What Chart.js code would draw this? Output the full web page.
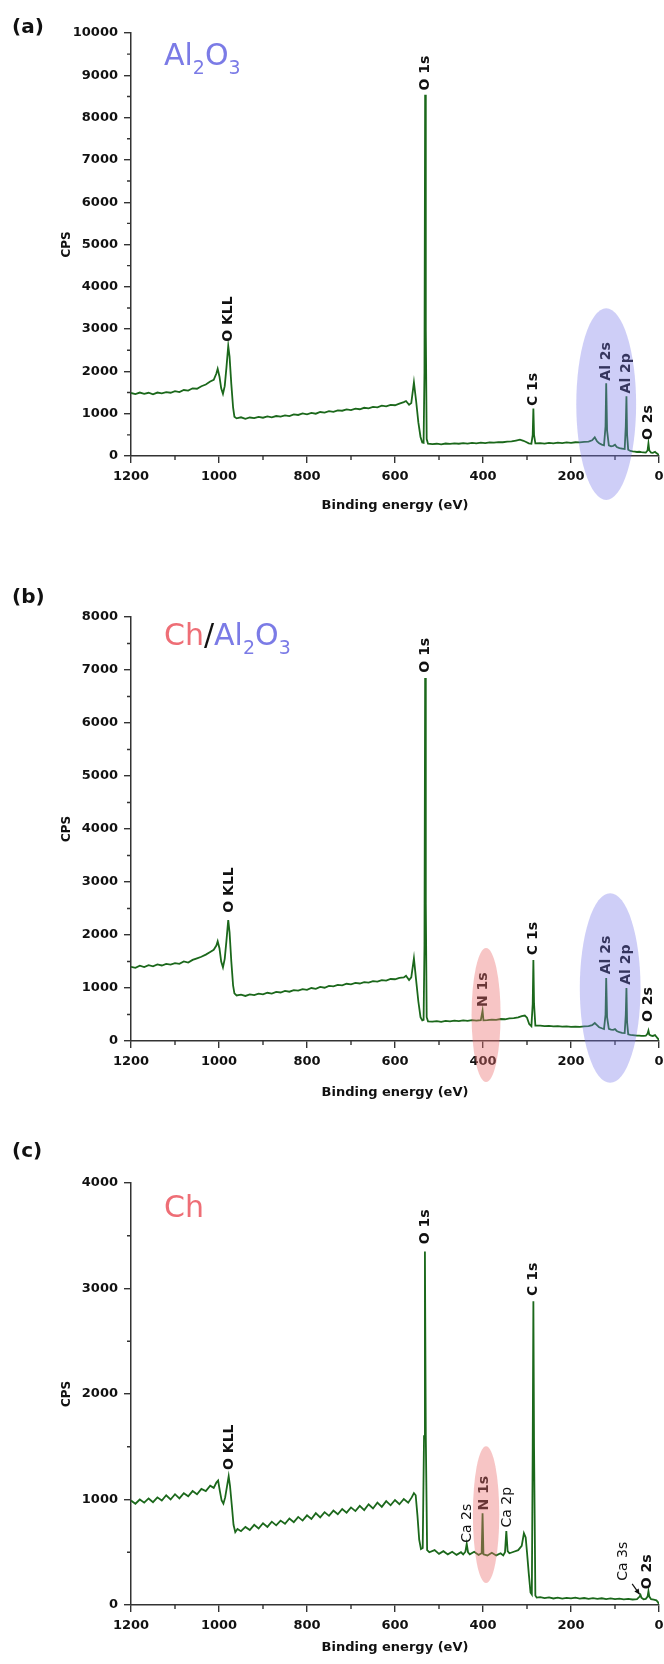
<!DOCTYPE html>
<html>
<head>
<meta charset="utf-8">
<script src="https://cdn.jsdelivr.net/npm/chart.js@4.4.1/dist/chart.umd.min.js"></script>
<style>
  body { margin: 0; background: #fff; }
  #page { position: relative; width: 664px; height: 1664px; overflow: hidden; background: #fff; }
  canvas { position: absolute; left: 0; }
  .tag { position: absolute; font: bold 20px/20px "DejaVu Sans", sans-serif; color: #111; }
  .formula { position: absolute; left: 164px; font: 30px/30px "DejaVu Sans", sans-serif; white-space: nowrap; }
  .formula sub { font-size: 19px; vertical-align: -9px; line-height: 0; }
  .al { color: #7b7be6; }
  .ch { color: #ee6e76; }
  .slash { color: #111; }
</style>
</head>
<body>
<div id="page">
  <canvas id="chartA" width="664" height="556" style="top:0"></canvas>
  <canvas id="chartB" width="664" height="556" style="top:556px"></canvas>
  <canvas id="chartC" width="664" height="552" style="top:1112px"></canvas>
  <div class="tag" style="left:12px;top:16px">(a)</div>
  <div class="tag" style="left:12px;top:586px">(b)</div>
  <div class="tag" style="left:12px;top:1140px">(c)</div>
  <div class="formula" style="top:40px"><span class="al">Al<sub>2</sub>O<sub>3</sub></span></div>
  <div class="formula" style="top:620px"><span class="ch">Ch</span><span class="slash">/</span><span class="al">Al<sub>2</sub>O<sub>3</sub></span></div>
  <div class="formula" style="top:1192px"><span class="ch">Ch</span></div>
</div>
<script>
// survey spectra, [binding energy (eV), CPS]
const spectrumA = [
  [1200,1490],[1190,1465],[1180,1500],[1170,1470],[1160,1495],[1150,1460],[1140,1500],[1130,1480],[1120,1510],[1110,1495],
  [1100,1535],[1090,1510],[1080,1560],[1070,1545],[1060,1600],[1050,1590],[1040,1650],[1030,1690],[1020,1760],[1012,1800],
  [1006,1950],[1003,2060],[999,1880],[995,1600],[991,1470],[987,1650],[983,2100],[979,2600],[976,2350],[972,1700],
  [968,1150],[965,930],[960,890],[950,915],[940,880],[930,910],[920,895],[910,925],[900,905],[890,935],
  [880,915],[870,945],[860,930],[850,960],[840,945],[830,985],[820,970],[810,1005],[800,985],[790,1020],
  [780,1000],[770,1040],[760,1025],[750,1060],[740,1045],[730,1080],[720,1070],[710,1100],[700,1085],[690,1120],
  [680,1105],[670,1140],[660,1125],[650,1160],[640,1150],[630,1190],[620,1175],[610,1210],[600,1200],[590,1240],
  [580,1275],[575,1300],[568,1210],[563,1250],[557,1740],[552,1300],[547,800],[542,450],[538,320],[535,310],
  [533,2000],[531.5,8540],[530,3000],[528,400],[525,290],[515,280],[505,290],[495,275],[485,295],[475,285],
  [465,300],[455,290],[445,305],[435,295],[425,310],[415,300],[405,315],[395,305],[385,320],[375,315],
  [365,330],[355,325],[345,340],[335,345],[325,365],[316,385],[308,360],[302,330],[296,300],[290,290],
  [287,500],[285.5,1120],[284,500],[281,300],[270,305],[260,295],[250,310],[240,300],[230,315],[220,305],
  [210,320],[200,310],[190,325],[180,320],[170,335],[160,340],[152,370],[146,440],[141,350],[136,300],
  [130,270],[125,255],[121.5,700],[120,1720],[118,600],[114,250],[109,230],[104,240],[100,265],[96,210],
  [90,185],[84,175],[78,165],[75.5,700],[74,1415],[72.5,500],[70,150],[65,120],[60,110],[55,105],
  [50,95],[45,100],[40,90],[35,85],[30,80],[26,130],[24,300],[22,130],[18,80],[14,75],
  [9,100],[6,70],[3,50],[0,20]
];
const spectrumB = [
  [1200,1400],[1190,1380],[1180,1420],[1170,1395],[1160,1430],[1150,1410],[1140,1445],[1130,1425],[1120,1455],[1110,1440],
  [1100,1470],[1090,1455],[1080,1500],[1070,1480],[1060,1530],[1050,1560],[1040,1590],[1030,1630],[1020,1680],[1012,1720],
  [1006,1800],[1003,1880],[999,1750],[995,1500],[991,1390],[987,1550],[983,1900],[979,2280],[976,2050],[972,1500],
  [968,1050],[965,900],[960,860],[950,875],[940,850],[930,880],[920,865],[910,895],[900,880],[890,910],
  [880,895],[870,925],[860,915],[850,945],[840,930],[830,960],[820,950],[810,980],[800,965],[790,1000],
  [780,985],[770,1020],[760,1005],[750,1040],[740,1030],[730,1060],[720,1050],[710,1080],[700,1070],[690,1095],
  [680,1085],[670,1110],[660,1100],[650,1130],[640,1120],[630,1150],[620,1140],[610,1170],[600,1165],[590,1190],
  [580,1200],[575,1230],[568,1150],[563,1200],[557,1560],[552,1150],[547,750],[542,450],[538,390],[535,400],
  [533,1800],[531.5,6850],[530,2600],[528,450],[525,370],[515,365],[505,375],[495,360],[485,380],[475,370],
  [465,385],[455,375],[445,390],[435,380],[425,395],[415,385],[405,395],[401,570],[399,390],[390,395],
  [380,405],[370,400],[360,415],[350,410],[340,425],[330,430],[320,445],[312,470],[305,480],[300,440],
  [295,320],[290,280],[287,700],[285.5,1530],[284,700],[281,290],[270,290],[260,280],[250,285],[240,275],
  [230,280],[220,270],[210,275],[200,265],[190,270],[180,265],[170,275],[160,280],[152,300],[146,340],
  [141,300],[136,260],[130,240],[125,225],[121.5,500],[120,1190],[118,450],[114,230],[109,215],[104,210],
  [100,225],[96,190],[90,165],[84,155],[78,150],[75.5,500],[74,1000],[72.5,350],[70,125],[65,115],
  [60,110],[55,105],[50,100],[45,100],[40,95],[35,95],[30,100],[26,140],[24,195],[22,120],
  [18,100],[14,95],[9,110],[6,80],[3,50],[0,20]
];
const spectrumC = [
  [1200,990],[1190,960],[1180,1000],[1170,970],[1160,1010],[1150,975],[1140,1020],[1130,990],[1120,1040],[1110,1000],
  [1100,1050],[1090,1010],[1080,1060],[1070,1030],[1060,1080],[1050,1050],[1040,1100],[1030,1080],[1020,1130],[1012,1110],
  [1006,1160],[1002,1180],[998,1080],[994,990],[990,960],[986,1020],[982,1120],[978,1220],[975,1130],[971,950],
  [967,760],[963,690],[958,720],[950,700],[940,740],[930,710],[920,760],[910,725],[900,775],[890,740],
  [880,790],[870,755],[860,800],[850,770],[840,820],[830,785],[820,835],[810,800],[800,850],[790,815],
  [780,870],[770,830],[760,880],[750,845],[740,895],[730,860],[720,910],[710,875],[700,925],[690,890],
  [680,940],[670,900],[660,955],[650,915],[640,970],[630,930],[620,985],[610,945],[600,995],[590,955],
  [580,1005],[570,970],[562,1020],[557,1060],[553,1040],[549,850],[545,620],[541,530],[537,540],[534,1600],
  [532,3350],[530,1600],[527,520],[522,500],[510,520],[500,485],[490,510],[480,480],[470,505],[460,475],
  [450,500],[445,480],[440,505],[437,580],[434,500],[430,480],[420,505],[410,475],[403,490],[401,870],
  [399,480],[390,470],[380,495],[370,470],[360,490],[354,470],[350,500],[347,700],[344,510],[340,490],
  [330,505],[320,520],[312,560],[307,680],[303,640],[300,500],[296,300],[292,120],[289,100],[287,1500],
  [285.5,2880],[284,1500],[281,90],[278,70],[270,75],[260,65],[250,72],[240,62],[230,70],[220,60],
  [210,68],[200,62],[190,70],[180,60],[170,66],[160,58],[150,65],[140,58],[130,64],[120,56],
  [110,62],[100,55],[90,60],[80,54],[70,58],[60,52],[50,56],[44,80],[42,95],[40,70],
  [35,55],[30,58],[26,80],[24,130],[22,80],[18,55],[12,50],[6,45],[3,30],[0,10]
];

// peak labels: [text, eV, CPS at the start of the rotated text, weight]
const peaksA = [["O KLL",978,2700,"bold"],["O 1s",531,8640,"bold"],["C 1s",286,1180,"bold"],["Al 2s",120,1780,"bold"],["Al 2p",74,1480,"bold"],["O 2s",25,380,"bold"]];
const peaksB = [["O KLL",977,2420,"bold"],["O 1s",531,6950,"bold"],["N 1s",399,640,"bold"],["C 1s",286,1620,"bold"],["Al 2s",119,1260,"bold"],["Al 2p",74,1060,"bold"],["O 2s",25,360,"bold"]];
const peaksC = [["O KLL",977,1280,"bold"],["O 1s",532,3420,"bold"],["C 1s",286,2930,"bold"],["Ca 2s",435,590,"normal"],["N 1s",398,895,"bold"],["Ca 2p",344,735,"normal"],["Ca 3s",80,230,"normal"],["O 2s",26,150,"bold"]];

// highlighted regions: [centre eV, centre CPS, half width eV, half height CPS, tint]
const regionsA = [[120,1226,68,2264,"blue"]];
const regionsB = [[111,1000,69,1790,"blue"],[393,490,33,1264,"red"]];
const regionsC = [[393,857,30,648,"red"]];

// arrows: [from eV, from CPS, to eV, to CPS]
const arrowsC = [[61,200,44,100]];

const yTicksA = 10000, yTicksB = 8000, yTicksC = 4000;

const FONT = "'DejaVu Sans', sans-serif";
const INK = "#111";
const AXIS = "#333";
const TINT = {blue: "rgba(120,120,232,0.36)", red: "rgba(236,110,110,0.4)"};

const annotate = {
  id: "annotate",
  afterDatasetsDraw(chart, args, opts) {
    const {ctx, scales: {x, y}} = chart;
    ctx.save();
    ctx.fillStyle = INK;
    ctx.textAlign = "left";
    ctx.textBaseline = "middle";
    (opts.peaks || []).forEach(([text, ev, cps, weight]) => {
      ctx.save();
      ctx.font = `${weight} 14px ${FONT}`;
      ctx.translate(x.getPixelForValue(ev), y.getPixelForValue(cps));
      ctx.rotate(-Math.PI / 2);
      ctx.fillText(text, 0, 0);
      ctx.restore();
    });
    ctx.strokeStyle = INK;
    ctx.lineWidth = 1.2;
    (opts.arrows || []).forEach(([e1, c1, e2, c2]) => {
      const x1 = x.getPixelForValue(e1), y1 = y.getPixelForValue(c1);
      const x2 = x.getPixelForValue(e2), y2 = y.getPixelForValue(c2);
      const a = Math.atan2(y2 - y1, x2 - x1);
      ctx.beginPath();
      ctx.moveTo(x1, y1);
      ctx.lineTo(x2, y2);
      ctx.stroke();
      ctx.beginPath();
      ctx.moveTo(x2, y2);
      ctx.lineTo(x2 - 6 * Math.cos(a - 0.45), y2 - 6 * Math.sin(a - 0.45));
      ctx.lineTo(x2 - 6 * Math.cos(a + 0.45), y2 - 6 * Math.sin(a + 0.45));
      ctx.closePath();
      ctx.fill();
    });
    ctx.restore();
  },
  afterDraw(chart, args, opts) {
    const {ctx, chartArea, scales: {x, y}} = chart;
    ctx.save();
    // minor ticks
    ctx.strokeStyle = AXIS;
    ctx.lineWidth = 1.4;
    ctx.beginPath();
    for (let v = 100; v < 1200; v += 200) {
      const px = x.getPixelForValue(v);
      ctx.moveTo(px, chartArea.bottom);
      ctx.lineTo(px, chartArea.bottom + 4);
    }
    for (let v = 500; v < y.max; v += 1000) {
      const py = y.getPixelForValue(v);
      ctx.moveTo(chartArea.left, py);
      ctx.lineTo(chartArea.left - 4, py);
    }
    ctx.stroke();
    // tinted ellipses on top
    (opts.regions || []).forEach(([ev, cps, dEv, dCps, tint]) => {
      const cx = x.getPixelForValue(ev), cy = y.getPixelForValue(cps);
      const rx = Math.abs(x.getPixelForValue(ev + dEv) - cx);
      const ry = Math.abs(y.getPixelForValue(cps + dCps) - cy);
      ctx.fillStyle = TINT[tint];
      ctx.beginPath();
      ctx.ellipse(cx, cy, rx, ry, 0, 0, Math.PI * 2);
      ctx.fill();
    });
    ctx.restore();
  }
};

function buildPanel(id, spectrum, yMax, peaks, regions, arrows, frame) {
  const tickFont = {family: FONT, weight: "bold", size: 13};
  new Chart(document.getElementById(id), {
    type: "line",
    data: {
      datasets: [{
        data: spectrum.map(([ev, cps]) => ({x: ev, y: cps})),
        borderColor: "#1b681b",
        borderWidth: 1.8,
        pointRadius: 0,
        tension: 0
      }]
    },
    options: {
      responsive: false,
      animation: false,
      devicePixelRatio: 1,
      layout: {padding: {top: frame.top, right: 5, bottom: frame.bottom, left: 0}},
      plugins: {
        legend: {display: false},
        tooltip: {enabled: false},
        annotate: {peaks, regions, arrows}
      },
      scales: {
        x: {
          type: "linear", min: 0, max: 1200, reverse: true,
          ticks: {stepSize: 200, color: INK, font: tickFont, padding: 6, maxRotation: 0, autoSkip: false, callback: v => String(v)},
          grid: {drawOnChartArea: false, tickLength: 7, color: AXIS, lineWidth: 1.4},
          border: {color: AXIS, width: 1.5},
          title: {display: true, text: "Binding energy (eV)", color: INK, font: tickFont, padding: {top: 0, bottom: frame.titlePad}},
          afterFit(s) { s.height = frame.xHeight; s.paddingLeft = 0; s.paddingRight = 0; }
        },
        y: {
          min: 0, max: yMax,
          ticks: {stepSize: 1000, color: INK, font: tickFont, padding: 6, callback: v => String(v)},
          grid: {drawOnChartArea: false, tickLength: 7, color: AXIS, lineWidth: 1.4},
          border: {color: AXIS, width: 1.5},
          title: {display: true, text: "CPS", color: INK, font: {family: FONT, weight: "bold", size: 12}, padding: {top: 60, bottom: 0}},
          afterFit(s) { s.width = 131; s.paddingTop = 0; s.paddingBottom = 0; }
        }
      }
    },
    plugins: [annotate]
  });
}

buildPanel("chartA", spectrumA, yTicksA, peaksA, regionsA, [], {top: 33, bottom: 40, xHeight: 60, titlePad: 3});
buildPanel("chartB", spectrumB, yTicksB, peaksB, regionsB, [], {top: 61, bottom: 11, xHeight: 60, titlePad: 1});
buildPanel("chartC", spectrumC, yTicksC, peaksC, regionsC, arrowsC, {top: 71, bottom: 0, xHeight: 59, titlePad: 9});
</script>
</body>
</html>
